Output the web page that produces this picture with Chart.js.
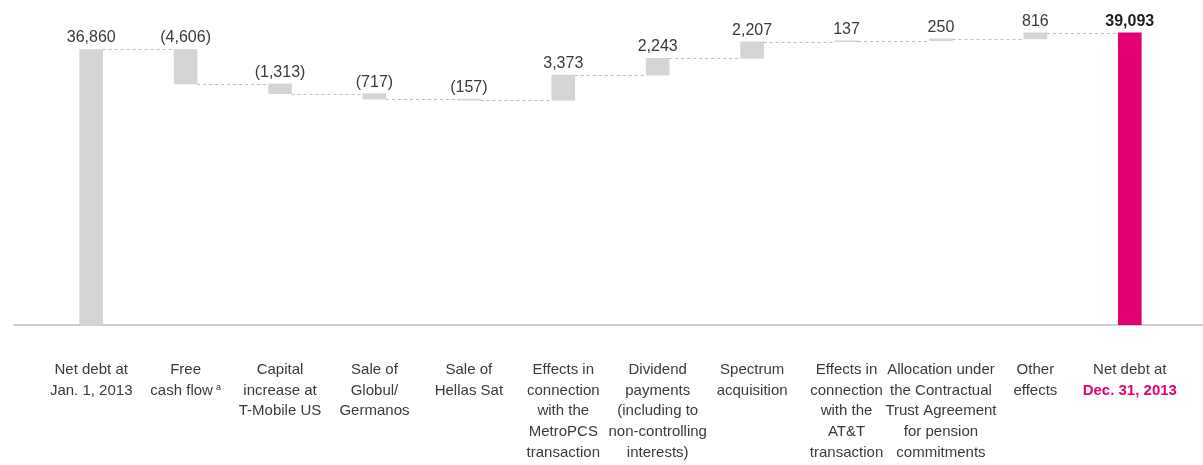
<!DOCTYPE html>
<html>
<head>
<meta charset="utf-8">
<script src="https://cdn.jsdelivr.net/npm/chart.js@4.4.1/dist/chart.umd.min.js"></script>
<style>
    html, body { margin: 0; padding: 0; background: #ffffff; }
    #wrap { position: relative; width: 1203px; height: 465px; }
</style>
</head>
<body>
<div id="wrap"><canvas id="net-debt-chart"></canvas></div>
<script>
const CATEGORIES = [
    ['Net debt at', 'Jan. 1, 2013'],
    ['Free', 'cash flow'],
    ['Capital', 'increase at', 'T-Mobile US'],
    ['Sale of', 'Globul/', 'Germanos'],
    ['Sale of', 'Hellas Sat'],
    ['Effects in', 'connection', 'with the', 'MetroPCS', 'transaction'],
    ['Dividend', 'payments', '(including to', 'non-controlling', 'interests)'],
    ['Spectrum', 'acquisition'],
    ['Effects in', 'connection', 'with the', 'AT&T', 'transaction'],
    ['Allocation under', 'the Contractual', 'Trust Agreement', 'for pension', 'commitments'],
    ['Other', 'effects'],
    ['Net debt at', 'Dec. 31, 2013'],
];
// changes in net debt (millions of €); first and last are totals
const CHANGES   = [36860, -4606, -1313, -717, -157, 3373, 2243, 2207, 137, 250, 816, 39093];
const IS_TOTAL  = [true, false, false, false, false, false, false, false, false, false, false, true];
const FOOTNOTES = ['', 'a', '', '', '', '', '', '', '', '', '', ''];
const Y_MAX     = 40000;

const GREY    = '#d3d4d6';
const MAGENTA = '#e20074';
const TEXT    = '#3a3a3a';
const FONT    = "'Liberation Sans', Arial, sans-serif";

// build floating bars from the changes
const levels = [];
const ranges = [];
let running = 0;
CHANGES.forEach((v, i) => {
    if (IS_TOTAL[i]) {
        ranges.push([0, v]);
        running = v;
    } else {
        ranges.push([running, running + v]);
        running += v;
    }
    levels.push(running);
});

function fmtValue(v) {
    const abs = Math.abs(v).toFixed(0).replace(/\B(?=(\d{3})+(?!\d))/g, ',');
    return v < 0 ? '(' + abs + ')' : abs;
}

const waterfallExtras = {
    id: 'waterfallExtras',
    beforeDatasetsDraw(chart) {
        const { ctx, chartArea } = chart;
        ctx.save();
        ctx.strokeStyle = '#cfcfcf';
        ctx.lineWidth = 2;
        ctx.beginPath();
        ctx.moveTo(13, chartArea.bottom);
        ctx.lineTo(chart.width, chartArea.bottom);
        ctx.stroke();
        ctx.restore();
    },
    afterDatasetsDraw(chart) {
        const { ctx, chartArea } = chart;
        const yScale = chart.scales.y;
        const bars = chart.getDatasetMeta(0).data;

        ctx.save();
        // dashed connectors
        ctx.strokeStyle = '#bdbdbd';
        ctx.lineWidth = 1;
        ctx.setLineDash([3, 3]);
        for (let i = 0; i < bars.length - 1; i++) {
            const y = Math.round(yScale.getPixelForValue(levels[i])) + 0.5;
            ctx.beginPath();
            ctx.moveTo(bars[i].x + bars[i].width / 2, y);
            ctx.lineTo(bars[i + 1].x - bars[i + 1].width / 2, y);
            ctx.stroke();
        }
        ctx.setLineDash([]);

        // value labels
        ctx.textAlign = 'center';
        ctx.textBaseline = 'alphabetic';
        bars.forEach((b, i) => {
            const top = Math.min(b.y, b.base);
            const last = i === bars.length - 1;
            ctx.font = (last ? 'bold ' : '') + '16px ' + FONT;
            ctx.fillStyle = last ? '#1e1e1e' : TEXT;
            ctx.fillText(fmtValue(CHANGES[i]), b.x, top - 7);
        });

        // category labels
        const lineH = 20.7;
        const firstBase = chartArea.bottom + 49;
        bars.forEach((b, i) => {
            CATEGORIES[i].forEach((line, j) => {
                const y = firstBase + j * lineH;
                const last = i === bars.length - 1 && j === 1;
                ctx.font = (last ? 'bold ' : '') + '15px ' + FONT;
                ctx.fillStyle = last ? MAGENTA : TEXT;
                const note = (j === CATEGORIES[i].length - 1) ? FOOTNOTES[i] : '';
                if (note) {
                    const w = ctx.measureText(line).width;
                    ctx.font = '9px ' + FONT;
                    const nw = ctx.measureText(note).width + 3;
                    const left = b.x - (w + nw) / 2;
                    ctx.textAlign = 'left';
                    ctx.font = '15px ' + FONT;
                    ctx.fillText(line, left, y);
                    ctx.font = '9px ' + FONT;
                    ctx.fillText(note, left + w + 3, y - 5);
                    ctx.textAlign = 'center';
                } else {
                    ctx.fillText(line, b.x, y);
                }
            });
        });
        ctx.restore();
    }
};

const chart = new Chart(document.getElementById('net-debt-chart').getContext('2d'), {
    type: 'bar',
    data: {
        labels: CATEGORIES,
        datasets: [{
            data: ranges,
            backgroundColor: CHANGES.map((v, i) => i === CHANGES.length - 1 ? MAGENTA : GREY),
            borderWidth: 0,
            barThickness: 23,
            borderSkipped: false,
        }],
    },
    options: {
        responsive: true,
        maintainAspectRatio: false,
        animation: false,
        layout: { padding: { left: 44, right: 26, top: 26, bottom: 140 } },
        plugins: {
            legend:  { display: false },
            tooltip: { enabled: false },
        },
        scales: {
            x: { display: false, grid: { display: false } },
            y: { display: false, min: 0, max: Y_MAX, grid: { display: false } },
        },
    },
    plugins: [waterfallExtras],
});
</script>
</body>
</html>
